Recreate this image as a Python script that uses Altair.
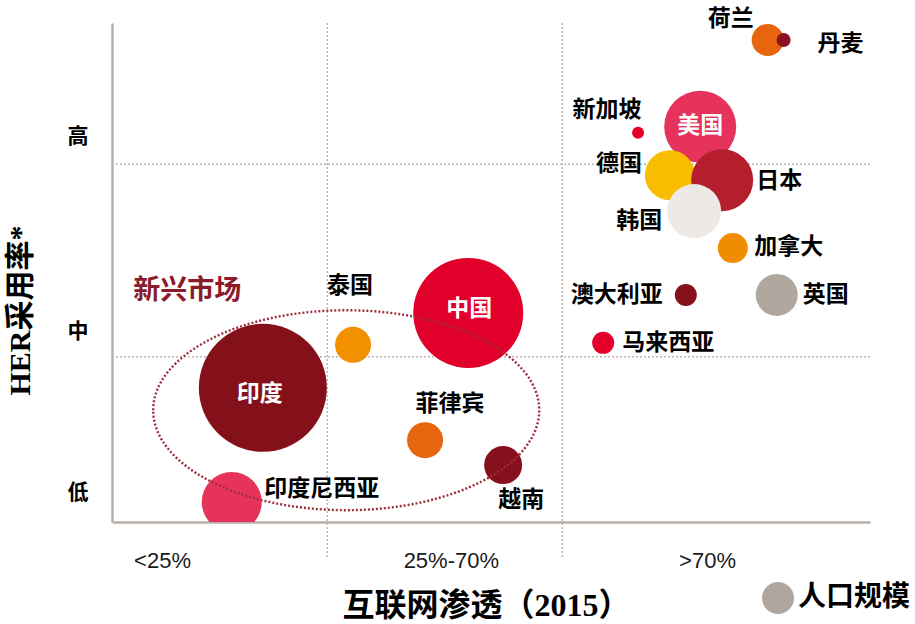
import altair as alt
import pandas as pd

# ---------------- data ----------------
countries = ["荷兰", "丹麦", "新加坡", "美国", "德国", "日本", "韩国", "加拿大",
             "澳大利亚", "英国", "马来西亚", "中国", "泰国", "印度", "印度尼西亚",
             "菲律宾", "越南"]
# position on the internet-penetration axis (0-100 chart units)
internet = [86.5, 88.6, 69.4, 77.6, 73.6, 80.5, 76.8, 81.9, 75.7, 87.7,
            64.8, 47.0, 31.8, 19.9, 15.8, 41.3, 51.6]
# position on the HER adoption axis (0-100 chart units)
her = [96.6, 96.6, 78.0, 79.2, 69.5, 68.5, 62.3, 54.9, 45.5, 45.5,
       35.9, 41.9, 35.5, 26.9, 4.0, 16.4, 11.4]
# population bubble (diameter units)
population = [32, 14, 12, 72, 50, 62, 54, 30, 22, 42, 22, 110, 36, 128, 60, 36, 38]

bubble_colors = ["#E8650F", "#8A1220", "#E2002A", "#E5335B", "#F8BC00", "#B51E2C",
                 "#ECE9E6", "#F08C00", "#86101C", "#B0A79F", "#E4002B", "#E1002A",
                 "#F29000", "#841019", "#E5335A", "#E8650F", "#86101C"]

x_categories = ["<25%", "25%-70%", ">70%"]
y_categories = ["低", "中", "高"]
x_boundaries = [28.4, 59.4]
y_boundaries = [33.1, 71.7]

emerging_label = "新兴市场"
emerging_center = (30.9, 22.4)
legend_label = "人口规模"

# ---------------- layout / style ----------------
W, H = 758, 499
x_label_pos = [6.6, 44.7, 78.5]
y_label_pos = [6.0, 38.1, 77.2]

# label offsets in pixels relative to the bubble centre
label_offsets = {
    "荷兰": (-37, -21), "丹麦": (57, 4), "新加坡": (-31, -23), "美国": (0, -1),
    "德国": (-51, -11), "日本": (57, 1), "韩国": (-55, 10), "加拿大": (56, -1),
    "澳大利亚": (-69, 0), "英国": (49, 0), "马来西亚": (65, 0), "中国": (1, -4),
    "泰国": (-3, -59), "印度": (-3, 6), "印度尼西亚": (90, -13), "菲律宾": (25, -36),
    "越南": (18, 35),
}
white_labels = {"美国", "中国", "印度"}

CJK = "Noto Sans CJK SC"

df = pd.DataFrame({
    "country": countries,
    "internet": internet,
    "her": her,
    "pop": population,
    "color": bubble_colors,
})
df["lx"] = [x + label_offsets[c][0] * 100 / W for c, x in zip(countries, internet)]
df["ly"] = [y - label_offsets[c][1] * 100 / H for c, y in zip(countries, her)]
df["lcolor"] = ["#FFFFFF" if c in white_labels else "#000000" for c in countries]

xscale = alt.Scale(domain=[0, 100], nice=False, zero=False)
yscale = alt.Scale(domain=[0, 100], nice=False, zero=False)

x_expr = ("datum.value < 20 ? '%s' : datum.value < 60 ? '%s' : '%s'"
          % tuple(x_categories))
y_expr = ("datum.value < 20 ? '%s' : datum.value < 60 ? '%s' : '%s'"
          % tuple(y_categories))

base = alt.Chart(df)

bubbles = base.mark_circle(opacity=1, clip=True, strokeWidth=0).transform_calculate(
    size="datum.pop * datum.pop"
).encode(
    x=alt.X("internet:Q", scale=xscale,
            axis=alt.Axis(values=x_label_pos, labelExpr=x_expr, ticks=False, grid=False,
                          domain=True, domainColor="#B8B0A8", domainWidth=2.5,
                          labelFont="Liberation Sans", labelFontSize=22,
                          labelColor="#1A1A1A", labelPadding=28,
                          labelAlign="center", labelFlush=False,
                          title="互联网渗透（2015）",
                          titleFont="Liberation Serif, " + CJK, titleFontSize=32,
                          titleFontWeight="bold", titleColor="#000000",
                          titleX=374, titleY=83, titleAlign="center",
                          titleBaseline="middle")),
    y=alt.Y("her:Q", scale=yscale,
            axis=alt.Axis(values=y_label_pos, labelExpr=y_expr, ticks=False, grid=False,
                          domain=True, domainColor="#B8B0A8", domainWidth=2.5,
                          labelFont=CJK, labelFontSize=21, labelFontWeight="bold",
                          labelColor="#000000", labelPadding=24,
                          labelBaseline="middle", labelFlush=False,
                          title="HER采用率*",
                          titleFont="Liberation Serif, " + CJK, titleFontSize=30,
                          titleFontWeight="bold", titleColor="#000000",
                          titleAngle=270, titleX=-92, titleY=287,
                          titleAlign="center", titleBaseline="middle")),
    size=alt.Size("size:Q", scale=None, legend=None),
    color=alt.Color("color:N", scale=None, legend=None),
)

grid_color = "#BDB5AE"
vgrid = alt.Chart(pd.DataFrame({"xb": x_boundaries})).mark_rule(
    color=grid_color, strokeDash=[2, 2], strokeWidth=1.5
).encode(x=alt.X("xb:Q", scale=xscale), y=alt.value(0), y2=alt.value(H + 35))

hgrid = alt.Chart(pd.DataFrame({"yb": y_boundaries})).mark_rule(
    color=grid_color, strokeDash=[2, 2], strokeWidth=1.5
).encode(y=alt.Y("yb:Q", scale=yscale), x=alt.value(0), x2=alt.value(W))

labels = base.mark_text(font=CJK, fontSize=23, fontWeight="bold",
                        align="center", baseline="middle").encode(
    x=alt.X("lx:Q", scale=xscale),
    y=alt.Y("ly:Q", scale=yscale),
    text="country:N",
    color=alt.Color("lcolor:N", scale=None, legend=None),
)

# dotted ellipse around the emerging markets
ell_df = pd.DataFrame({"ex": [emerging_center[0]], "ey": [emerging_center[1]]})
ellipse = alt.Chart(ell_df).mark_point(
    shape="M-1,0A1,0.518,0,1,1,1,0A1,0.518,0,1,1,-1,0Z",
    filled=False, stroke="#9E2E3C", strokeWidth=2.4, strokeDash=[2, 2],
    size=386 * 386, opacity=1,
).encode(x=alt.X("ex:Q", scale=xscale), y=alt.Y("ey:Q", scale=yscale))

em_df = pd.DataFrame({
    "tx": [emerging_center[0] - 159 * 100 / W],
    "ty": [emerging_center[1] + 119 * 100 / H],
    "t": [emerging_label],
})
emerging_text = alt.Chart(em_df).mark_text(
    font=CJK, fontSize=27, fontWeight="bold", color="#8B1A2B",
    align="center", baseline="middle"
).encode(x=alt.X("tx:Q", scale=xscale), y=alt.Y("ty:Q", scale=yscale), text="t:N")

# legend (drawn manually, below the plot on the right)
leg_df = pd.DataFrame({"t": [legend_label]})
legend_dot = alt.Chart(leg_df).mark_circle(
    color="#B0A69D", opacity=1, size=32 * 32
).encode(x=alt.value(666), y=alt.value(575))
legend_text = alt.Chart(leg_df).mark_text(
    font=CJK, fontSize=28, fontWeight="bold", color="#000000",
    align="left", baseline="middle"
).encode(x=alt.value(686), y=alt.value(575), text="t:N")

chart = alt.layer(
    vgrid, hgrid, bubbles, ellipse, labels, emerging_text, legend_dot, legend_text
).properties(
    width=W, height=H,
    padding={"left": 112, "top": 23, "right": 45, "bottom": 102},
    autosize=alt.AutoSizeParams(type="none"),
    background="#FFFFFF",
).configure_view(stroke=None)

chart.save("out.html", embed_options={"renderer": "svg", "actions": False})
